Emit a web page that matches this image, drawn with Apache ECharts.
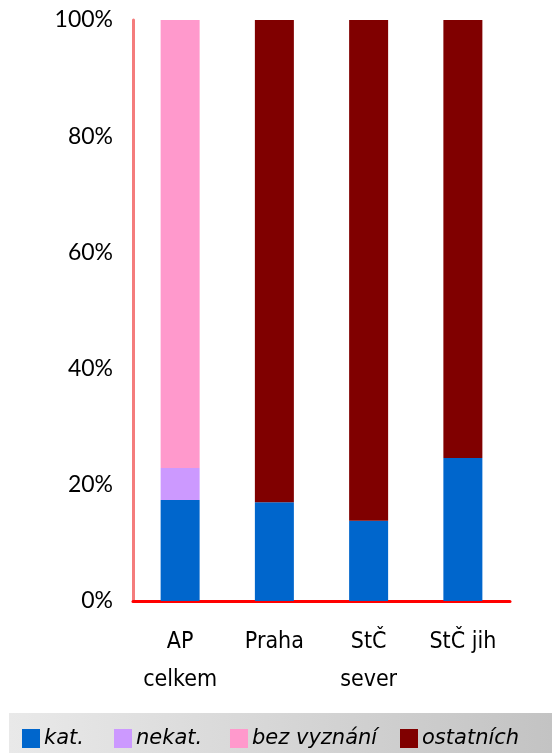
<!DOCTYPE html>
<html><head><meta charset="utf-8">
<script src="https://cdn.jsdelivr.net/npm/echarts@6/dist/echarts.min.js"></script>
<style>html,body{margin:0;padding:0;background:#fff}#c{width:552px;height:753px}</style>
</head><body><div id="c"></div>
<script>
var categories = ['AP\ncelkem', 'Praha', 'StČ\nsever', 'StČ jih'];
var seriesNames = ['kat.', 'nekat.', 'bez vyznání', 'ostatních'];
var kat = [17.4, 17.0, 13.8, 24.6];
var nekat = [5.5, 0, 0, 0];
var bezVyznani = [77.1, 0, 0, 0];
var ostatnich = [0, 83.0, 86.2, 75.4];
var yTicks = [0, 20, 40, 60, 80, 100];

var colors = ['#0066CC', '#CC99FF', '#FF99CC', '#800000'];
var values = [kat, nekat, bezVyznani, ostatnich];
var chart = echarts.init(document.getElementById('c'));
var legendLeft = [22, 114, 230, 400];
chart.setOption({
  animation: false,
  graphic: [{
    type: 'rect', left: 9, top: 713, z: -10,
    shape: {width: 543, height: 40},
    style: {fill: new echarts.graphic.LinearGradient(0, 0, 1, 0, [{offset: 0, color: '#e9e9e9'}, {offset: 1, color: '#c3c3c3'}])}
  }],
  grid: {left: 133, right: 42, top: 20, bottom: 152},
  legend: seriesNames.map(function (n, i) {
    return {
      data: [n], left: legendLeft[i], top: 728, icon: 'rect',
      itemWidth: 18, itemHeight: 19, itemGap: 6, padding: 0,
      textStyle: {fontFamily: 'DejaVu Sans', fontStyle: 'italic', fontSize: 21, color: '#000', padding: [0, 0, 0, -1]}
    };
  }),
  xAxis: {
    type: 'category', data: categories,
    axisLine: {lineStyle: {color: '#ff0000', width: 3}},
    axisTick: {show: false},
    axisLabel: {fontFamily: 'DejaVu Sans Condensed', fontSize: 23, color: '#000', lineHeight: 38, margin: 22, interval: 0}
  },
  yAxis: {
    type: 'value', min: 0, max: yTicks[yTicks.length - 1], interval: yTicks[1] - yTicks[0],
    axisLine: {show: true, lineStyle: {color: '#f47c7c', width: 3}},
    axisTick: {show: false},
    splitLine: {show: false},
    axisLabel: {formatter: '{value}%', fontFamily: 'Lato', fontSize: 23, color: '#000', margin: 20}
  },
  series: seriesNames.map(function (n, i) {
    return {
      name: n, type: 'bar', stack: 'a', barWidth: 39,
      itemStyle: {color: colors[i]}, data: values[i]
    };
  })
});
</script></body></html>
